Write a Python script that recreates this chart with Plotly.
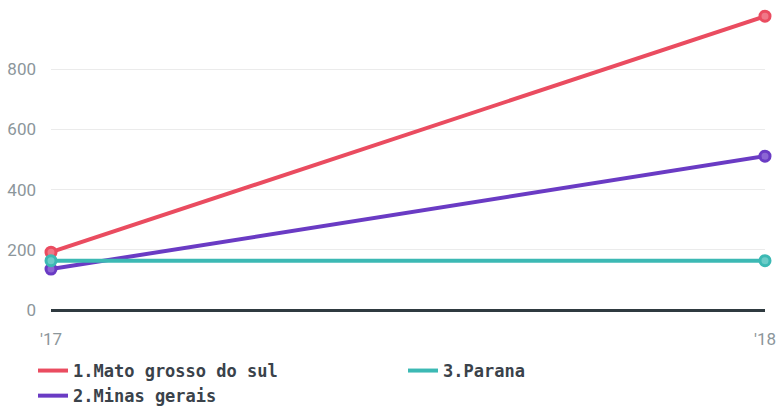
import plotly.graph_objects as go

years = ["'17", "'18"]
mato_grosso_do_sul = [192, 976]
minas_gerais = [136, 511]
parana = [164, 164]

names = ["1.Mato grosso do sul", "2.Minas gerais", "3.Parana"]
colors = ["#ea4c60", "#6a3bc4", "#3cb9b4"]
centers = ["#f07888", "#8c66d4", "#6cccc8"]
ranks = [1, 3, 2]
series = [mato_grosso_do_sul, minas_gerais, parana]

fig = go.Figure()
for name, vals, col, cen in zip(names, series, colors, centers):
    fig.add_trace(go.Scatter(
        x=[0, 1], y=vals, name=name, mode="lines+markers",
        line=dict(color=col, width=4),
        marker=dict(color=cen, size=10, line=dict(color=col, width=3)),
        showlegend=False, cliponaxis=False,
    ))
for name, col, rk in zip(names, colors, ranks):
    fig.add_trace(go.Scatter(
        x=[None], y=[None], name=name, mode="lines",
        line=dict(color=col, width=4),
        legendrank=rk, showlegend=True,
    ))

tick_font = dict(family="Roboto", size=17, color="#8c969b")

fig.update_layout(
    width=780, height=406,
    margin=dict(l=51, r=15, t=9, b=96, autoexpand=False),
    paper_bgcolor="white", plot_bgcolor="white",
    showlegend=True,
    legend=dict(
        orientation="h", x=-18 / 714, xanchor="left",
        y=-43 / 301, yanchor="top",
        font=dict(family="DejaVu Sans Mono", size=17, color="#3a424a", weight="bold"),
        entrywidth=325, entrywidthmode="pixels",
        itemwidth=30, tracegroupgap=0, traceorder="normal",
    ),
    xaxis=dict(
        range=[0, 1], tickvals=[0, 1], ticktext=years,
        showgrid=False, zeroline=False, showline=False, automargin=False,
        ticks="outside", ticklen=14, tickcolor="rgba(0,0,0,0)",
        tickfont=tick_font,
    ),
    yaxis=dict(
        range=[0, 1000], tickvals=[0, 200, 400, 600, 800],
        showgrid=True, gridcolor="#ebebeb", gridwidth=1, automargin=False,
        zeroline=True, zerolinecolor="#2f3a40", zerolinewidth=3,
        showline=False, ticks="", ticklabelstandoff=14,
        tickfont=tick_font,
    ),
)

fig.write_html(
    "out.html",
    config={"displayModeBar": False},
    post_script="document.body.style.margin='0';document.body.style.overflow='hidden';",
)
